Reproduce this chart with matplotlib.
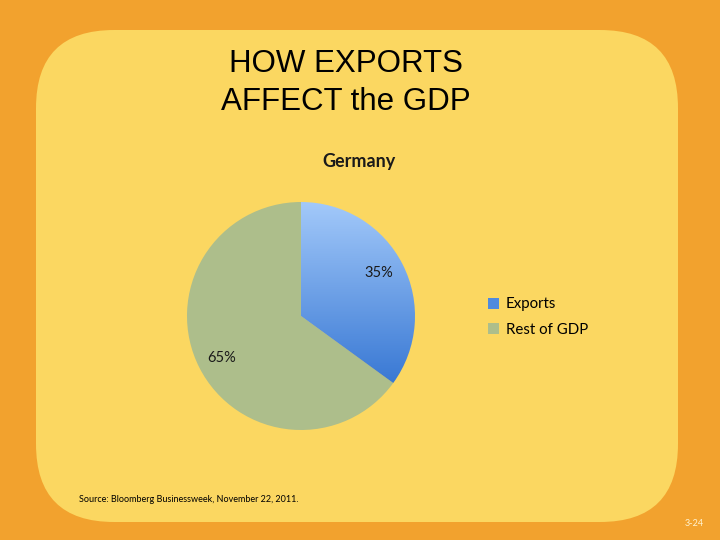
import matplotlib.pyplot as plt
import numpy as np
from matplotlib.patches import FancyBboxPatch, Rectangle

# data
labels = ["Exports", "Rest of GDP"]
shares = [35, 65]
pct_text = ["35%", "65%"]

ORANGE = "#F2A22E"
YELLOW = "#FBD761"
GREEN = "#ADBE8B"
BLUE_TOP = np.array([0.64, 0.79, 0.98])
BLUE_BOT = np.array([0.22, 0.47, 0.83])

fig = plt.figure(figsize=(7.2, 5.4), dpi=100)
fig.patch.set_facecolor(ORANGE)

# slide background in pixel coords
bg = fig.add_axes([0, 0, 1, 1])
bg.set_xlim(0, 720); bg.set_ylim(540, 0)
bg.axis("off")
bg.add_patch(FancyBboxPatch((36 + 78, 30 + 78), 642 - 156, 492 - 156,
                            boxstyle="round,pad=78", facecolor=YELLOW,
                            edgecolor="none"))

bg.text(346, 64, "HOW EXPORTS", ha="center", va="center",
        fontsize=22.5, family="Liberation Sans")
bg.text(346, 102, "AFFECT the GDP", ha="center", va="center",
        fontsize=22.5, family="Liberation Sans")
bg.text(359, 161, "Germany", ha="center", va="center", fontsize=13,
        fontweight="bold", family="Lato", color="#1a1a1a")
bg.text(79, 500, "Source: Bloomberg Businessweek, November 22, 2011.",
        ha="left", va="center", fontsize=6.5, family="Lato")
bg.text(694, 524, "3-24", ha="center", va="center", fontsize=6.5,
        color="#fff3d0", family="Lato")

# pie
cx, cy, r = 301, 316, 114
pax = fig.add_axes([(cx - r) / 720, (540 - cy - r) / 540, 2 * r / 720, 2 * r / 540])
wedges, _ = pax.pie(shares, startangle=90, counterclock=False,
                    colors=["none", GREEN], radius=1,
                    wedgeprops=dict(linewidth=0))
pax.set_xlim(-1, 1); pax.set_ylim(-1, 1)

# vertical gradient for exports slice
t = np.linspace(0, 1, 256)[:, None]
grad = (BLUE_TOP[None, :] * (1 - t) + BLUE_BOT[None, :] * t)[:, None, :]
im = pax.imshow(grad, extent=(-1, 1, -0.6, 1), aspect="auto", zorder=1,
                origin="upper")
im.set_clip_path(wedges[0])
pax.set_xlim(-1, 1); pax.set_ylim(-1, 1)

pax.text(0.68, 0.38, pct_text[0], ha="center", va="center", fontsize=10.5,
         family="Lato", color="#1a1a1a")
pax.text(-0.7, -0.37, pct_text[1], ha="center", va="center", fontsize=10.5,
         family="Lato", color="#1a1a1a")

# legend
handles = [Rectangle((0, 0), 1, 1, facecolor="#4f8ade"),
           Rectangle((0, 0), 1, 1, facecolor=GREEN)]
leg = fig.legend(handles, labels, loc="center left",
                 bbox_to_anchor=(474 / 720, 1 - 317 / 540), frameon=False,
                 handlelength=0.75, handleheight=0.75, handletextpad=0.45,
                 labelspacing=0.75, prop=dict(family="Lato", size=10.8))

fig.savefig("out.png", dpi=100, facecolor=ORANGE)
